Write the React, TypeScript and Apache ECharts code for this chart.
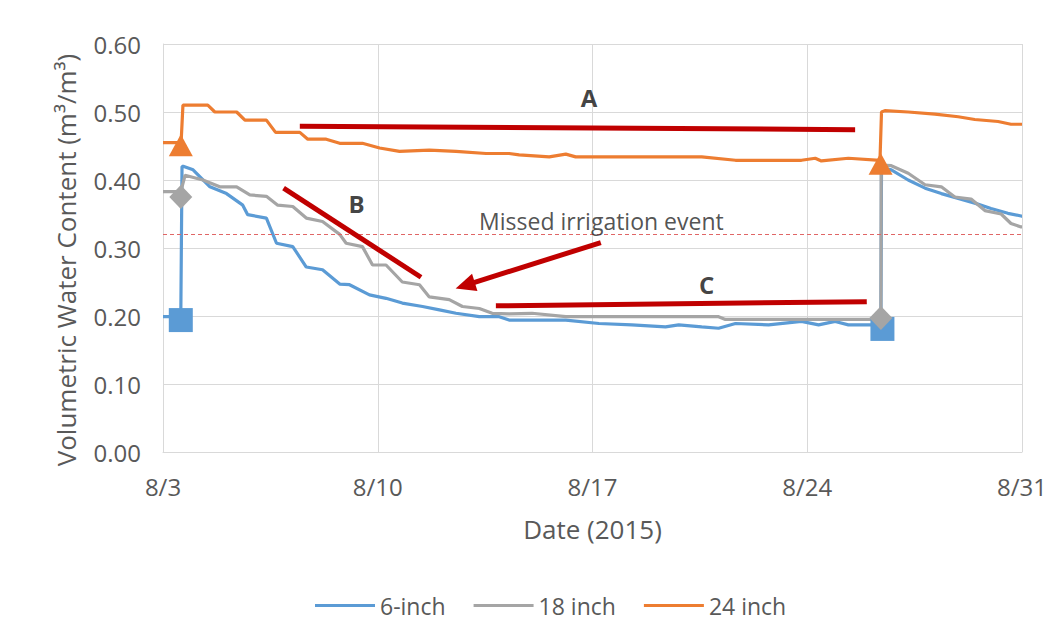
import React, { useEffect, useRef } from "react";
import * as echarts from "echarts";

// x = days after 8/3/2015, y = volumetric water content (m3/m3)
const tickLabels = ["8/3", "8/10", "8/17", "8/24", "8/31"];
const seriesNames = ["6-inch", "18 inch", "24 inch"];

const inch6: [number, number][] = [
  [0, 0.199], [0.58, 0.199], [0.62, 0.42], [0.68, 0.42], [0.98, 0.415], [1.53, 0.39],
  [2.07, 0.38], [2.6, 0.363], [2.76, 0.349], [3.37, 0.344], [3.7, 0.307], [4.23, 0.302],
  [4.67, 0.272], [5.2, 0.268], [5.76, 0.247], [6.08, 0.246], [6.73, 0.231], [7.27, 0.226],
  [7.8, 0.219], [8.46, 0.214], [9.01, 0.209], [9.55, 0.204], [10.31, 0.199], [10.96, 0.199],
  [11.28, 0.194], [12.03, 0.194], [13.13, 0.194], [14.21, 0.189], [15.28, 0.187],
  [16.38, 0.184], [16.81, 0.187], [17.56, 0.184], [18.11, 0.182], [18.66, 0.189],
  [19.74, 0.187], [20.81, 0.192], [21.37, 0.187], [21.91, 0.192], [22.34, 0.187],
  [23.4, 0.187], [23.42, 0.418], [23.74, 0.415], [24.29, 0.4], [24.84, 0.388],
  [25.37, 0.38], [25.92, 0.373], [26.46, 0.366], [26.99, 0.358], [27.54, 0.351],
  [27.97, 0.347], [28, 0.347],
];

const inch18: [number, number][] = [
  [0, 0.383], [0.58, 0.383], [0.72, 0.407], [1.3, 0.4], [1.85, 0.39], [2.4, 0.39],
  [2.83, 0.378], [3.37, 0.376], [3.74, 0.363], [4.23, 0.361], [4.67, 0.344], [5.2, 0.339],
  [5.76, 0.32], [5.97, 0.307], [6.5, 0.302], [6.83, 0.275], [7.27, 0.275], [7.8, 0.25],
  [8.36, 0.246], [8.68, 0.228], [9.33, 0.224], [9.76, 0.214], [10.31, 0.211],
  [10.73, 0.204], [11.28, 0.203], [12.03, 0.204], [13.13, 0.199], [16.81, 0.199],
  [18.11, 0.199], [18.33, 0.195], [22.34, 0.195], [23.4, 0.195], [23.41, 0.422],
  [23.74, 0.421], [24.29, 0.41], [24.84, 0.393], [25.37, 0.39], [25.81, 0.375],
  [26.34, 0.372], [26.79, 0.355], [27.32, 0.35], [27.64, 0.336], [27.97, 0.331], [28, 0.331],
];

const inch24: [number, number][] = [
  [0, 0.455], [0.59, 0.455], [0.65, 0.51], [1.46, 0.51], [1.69, 0.5], [2.4, 0.5],
  [2.67, 0.488], [3.37, 0.488], [3.67, 0.47], [4.46, 0.47], [4.72, 0.46], [5.32, 0.46],
  [5.76, 0.454], [6.5, 0.454], [7.06, 0.447], [7.71, 0.442], [8.68, 0.444], [9.55, 0.442],
  [10.53, 0.439], [11.28, 0.439], [11.61, 0.437], [12.59, 0.434], [13.13, 0.438],
  [13.45, 0.434], [16.81, 0.434], [17.56, 0.434], [18.66, 0.429], [20.81, 0.429],
  [21.26, 0.432], [21.46, 0.428], [22.34, 0.432], [23.37, 0.429], [23.42, 0.5],
  [23.53, 0.502], [24.29, 0.5], [25.16, 0.497], [25.92, 0.493], [26.46, 0.489],
  [27.22, 0.486], [27.64, 0.482], [28, 0.482],
];

// irrigation event markers
const squareMarks: [number, number][] = [[0.58, 0.194], [23.45, 0.181]];
const diamondMarks: [number, number][] = [[0.58, 0.375], [23.4, 0.197]];
const triangleMarks: [number, number][] = [[0.58, 0.451], [23.39, 0.424]];

// annotations (data coordinates)
const threshold = 0.32;
const annotationLines: [number, number][][] = [
  [[4.46, 0.479], [22.56, 0.474]], // A
  [[3.93, 0.388], [8.41, 0.257]], // B
  [[10.85, 0.215], [22.94, 0.221]], // C
];
const arrowLine: [number, number][] = [[14.27, 0.308], [9.85, 0.245]];
const letterLabels: { name: string; value: [number, number] }[] = [
  { name: "A", value: [13.89, 0.521] },
  { name: "B", value: [6.31, 0.366] },
  { name: "C", value: [17.72, 0.247] },
];
const noteLabel = { name: "Missed irrigation event", value: [14.29, 0.339] as [number, number] };

const BLUE = "#5B9BD5";
const GRAY = "#A5A5A5";
const ORANGE = "#ED7D31";
const RED = "#C00000";
const FONT = "Open Sans";

export default function App() {
  const ref = useRef<HTMLDivElement>(null);

  useEffect(() => {
    const chart = echarts.init(ref.current!, null, { renderer: "svg" });
    chart.setOption({
      animation: false,
      backgroundColor: "#ffffff",
      textStyle: { fontFamily: FONT },
      grid: { left: 163, right: 26, top: 44, bottom: 180, containLabel: false },
      legend: {
        data: seriesNames,
        left: 310,
        top: 589,
        icon: "rect",
        itemWidth: 60,
        itemHeight: 3,
        itemGap: 28,
        textStyle: { fontSize: 23, color: "#595959", fontFamily: FONT },
      },
      xAxis: {
        type: "value",
        min: 0,
        max: 28,
        interval: 7,
        name: "Date (2015)",
        nameLocation: "middle",
        nameGap: 64,
        nameTextStyle: { fontSize: 26, color: "#595959", fontFamily: FONT },
        axisLine: { show: true, lineStyle: { color: "#D9D9D9", width: 1 } },
        axisTick: { show: false },
        splitLine: { show: true, lineStyle: { color: "#D9D9D9", width: 1 } },
        axisLabel: {
          fontSize: 24,
          color: "#595959",
          margin: 22,
          formatter: (v: number) => tickLabels[Math.round(v / 7)] ?? "",
        },
      },
      yAxis: {
        type: "value",
        min: 0,
        max: 0.6,
        interval: 0.1,
        name: "Volumetric Water Content (m³/m³)",
        nameLocation: "middle",
        nameGap: 84,
        nameTextStyle: { fontSize: 26, color: "#595959", fontFamily: FONT, padding: [0, 24, 0, 0] },
        axisLine: { show: true, lineStyle: { color: "#D9D9D9", width: 1 } },
        axisTick: { show: false },
        splitLine: { show: true, lineStyle: { color: "#D9D9D9", width: 1 } },
        axisLabel: {
          fontSize: 24,
          color: "#595959",
          margin: 22,
          formatter: (v: number) => v.toFixed(2),
        },
      },
      series: [
        {
          name: seriesNames[0],
          type: "line",
          data: inch6,
          symbol: "none",
          color: BLUE,
          lineStyle: { width: 3.2, color: BLUE },
        },
        {
          name: seriesNames[1],
          type: "line",
          data: inch18,
          symbol: "none",
          color: GRAY,
          lineStyle: { width: 3.2, color: GRAY },
        },
        {
          name: seriesNames[2],
          type: "line",
          data: inch24,
          symbol: "none",
          color: ORANGE,
          lineStyle: { width: 3.2, color: ORANGE },
        },
        {
          name: "threshold",
          type: "line",
          data: [],
          symbol: "none",
          markLine: {
            silent: true,
            symbol: ["none", "none"],
            label: { show: false },
            lineStyle: { color: "#E06666", width: 1, type: [4, 3] },
            data: [{ yAxis: threshold }],
          },
        },
        {
          name: "annotations",
          type: "line",
          data: [],
          symbol: "none",
          markLine: {
            silent: true,
            symbol: ["none", "none"],
            label: { show: false },
            lineStyle: { color: RED, width: 5, type: "solid" },
            data: annotationLines.map((seg) => [{ coord: seg[0] }, { coord: seg[1] }]),
          },
        },
        {
          name: "arrow",
          type: "line",
          data: [],
          symbol: "none",
          markLine: {
            silent: true,
            symbol: ["none", "triangle"],
            symbolSize: [18, 20],
            label: { show: false },
            lineStyle: { color: RED, width: 5, type: "solid" },
            data: [[{ coord: arrowLine[0] }, { coord: arrowLine[1] }]],
          },
        },
        {
          name: "squares",
          type: "scatter",
          data: squareMarks,
          symbol: "rect",
          symbolSize: 24,
          itemStyle: { color: BLUE, opacity: 1 },
          z: 5,
        },
        {
          name: "diamonds",
          type: "scatter",
          data: diamondMarks,
          symbol: "diamond",
          symbolSize: [23, 24],
          itemStyle: { color: GRAY, opacity: 1 },
          z: 5,
        },
        {
          name: "triangles",
          type: "scatter",
          data: triangleMarks,
          symbol: "triangle",
          symbolSize: [24, 22],
          itemStyle: { color: ORANGE, opacity: 1 },
          z: 5,
        },
        {
          name: "letters",
          type: "scatter",
          data: letterLabels,
          symbolSize: 1,
          itemStyle: { color: "rgba(0,0,0,0)" },
          label: {
            show: true,
            position: "inside",
            formatter: (p: any) => p.name,
            fontSize: 24,
            fontWeight: "bold",
            color: "#111111",
            fontFamily: FONT,
          },
          z: 6,
        },
        {
          name: "note",
          type: "scatter",
          data: [noteLabel],
          symbolSize: 1,
          itemStyle: { color: "rgba(0,0,0,0)" },
          label: {
            show: true,
            position: "inside",
            formatter: (p: any) => p.name,
            fontSize: 23,
            color: "#262626",
            fontFamily: FONT,
          },
          z: 6,
        },
      ],
    });
    return () => chart.dispose();
  }, []);

  return (
    <div
      ref={ref}
      style={{ position: "fixed", left: 0, top: 0, width: 1050, height: 632, background: "#fff" }}
    />
  );
}
